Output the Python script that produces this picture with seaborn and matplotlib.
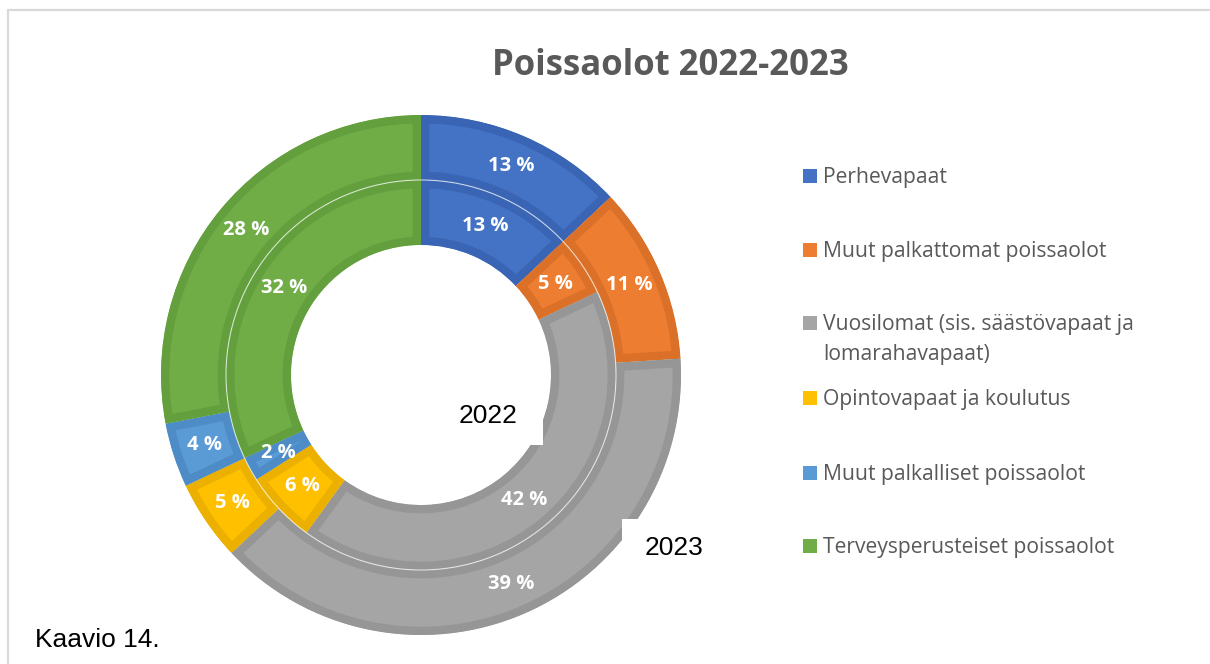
import matplotlib
matplotlib.use("Agg")
import matplotlib.pyplot as plt
import seaborn as sns
from matplotlib.patches import Rectangle, Circle
from matplotlib.lines import Line2D

sns.set_theme(style="white")

categories = [
    "Perhevapaat",
    "Muut palkattomat poissaolot",
    "Vuosilomat (sis. säästövapaat ja\nlomarahavapaat)",
    "Opintovapaat ja koulutus",
    "Muut palkalliset poissaolot",
    "Terveysperusteiset poissaolot",
]
values_2022 = [13, 5, 42, 6, 2, 32]
values_2023 = [13, 11, 39, 5, 4, 28]
year_labels = ["2022", "2023"]
title = "Poissaolot 2022-2023"
caption = "Kaavio 14."

fill_colors = ["#4472C4", "#ED7D31", "#A5A5A5", "#FFC000", "#5B9BD5", "#70AD47"]
edge_colors = ["#3A65B4", "#DB7029", "#969696", "#EBB000", "#4D8CC6", "#63A03D"]

W, H = 1210, 664
fig = plt.figure(figsize=(W / 100, H / 100), dpi=100)
fig.patch.set_facecolor("white")

cx, cy, R = 421, 375, 260
ax = fig.add_axes([(cx - R) / W, (H - cy - R) / H, 2 * R / W, 2 * R / H])


def pct_fmt(p):
    return f"{round(p):d} %"


def ring(values, radius, pctdist):
    wedges, texts, autotexts = ax.pie(
        values, radius=radius, startangle=90, counterclock=False,
        colors=fill_colors, autopct=pct_fmt, pctdistance=pctdist,
        wedgeprops=dict(width=0.25, linewidth=0),
        textprops=dict(color="white", fontsize=14.5, fontweight="bold",
                       family="Open Sans"),
    )
    for w, ec in zip(wedges, edge_colors):
        w.set_edgecolor(ec)
        w.set_linewidth(12)
        w.set_clip_on(True)
        w.set_clip_path(w)
    for t in autotexts:
        t.set_zorder(5)
    return wedges


ring(values_2023, 1.0, 0.875)
ring(values_2022, 0.75, 0.833)
ax.add_patch(Circle((0, 0), 0.75, fill=False, edgecolor="white", lw=0.8,
                    alpha=0.7, zorder=4))
ax.set_xlim(-1, 1)
ax.set_ylim(-1, 1)
ax.set_aspect("auto")
ax.axis("off")


def fig_rect(x0, y0, x1, y1):
    fig.add_artist(Rectangle((x0 / W, 1 - y1 / H), (x1 - x0) / W, (y1 - y0) / H,
                             transform=fig.transFigure, facecolor="white",
                             edgecolor="none", zorder=10))


fig_rect(445, 388, 543, 445)
fig_rect(622, 519, 722, 576)
fig.text(488 / W, 1 - 416 / H, year_labels[0], ha="center", va="center",
         fontsize=19, family="Liberation Sans", color="black", zorder=11)
fig.text(674 / W, 1 - 548 / H, year_labels[1], ha="center", va="center",
         fontsize=19, family="Liberation Sans", color="black", zorder=11)

# title
fig.text(670 / W, 1 - 75 / H, title, ha="center", va="baseline", fontsize=25,
         fontweight="bold", family="Open Sans", color="#595959")

# legend
leg_base = [183, 257, 330, 405, 480, 553]
line_gap = 30
for c, col, yb in zip(categories, fill_colors, leg_base):
    fig.add_artist(Rectangle((803 / W, 1 - yb / H), 14 / W, 14 / H,
                             transform=fig.transFigure, facecolor=col,
                             edgecolor="none"))
    for i, line in enumerate(c.split("\n")):
        fig.text(823 / W, 1 - (yb + i * line_gap) / H, line, ha="left",
                 va="baseline", fontsize=15.2, family="Open Sans",
                 color="#595959")

# caption
fig.text(35 / W, 1 - 647 / H, caption, ha="left", va="baseline", fontsize=19,
         family="Liberation Sans", color="black")

# frame lines
fig.add_artist(Line2D([8 / W, 1], [1 - 10 / H, 1 - 10 / H], transform=fig.transFigure,
                      color="#D9D9D9", lw=1.6))
fig.add_artist(Line2D([8 / W, 8 / W], [0, 1 - 10 / H], transform=fig.transFigure,
                      color="#D9D9D9", lw=1.6))

fig.savefig("out.png", dpi=100, facecolor="white")
